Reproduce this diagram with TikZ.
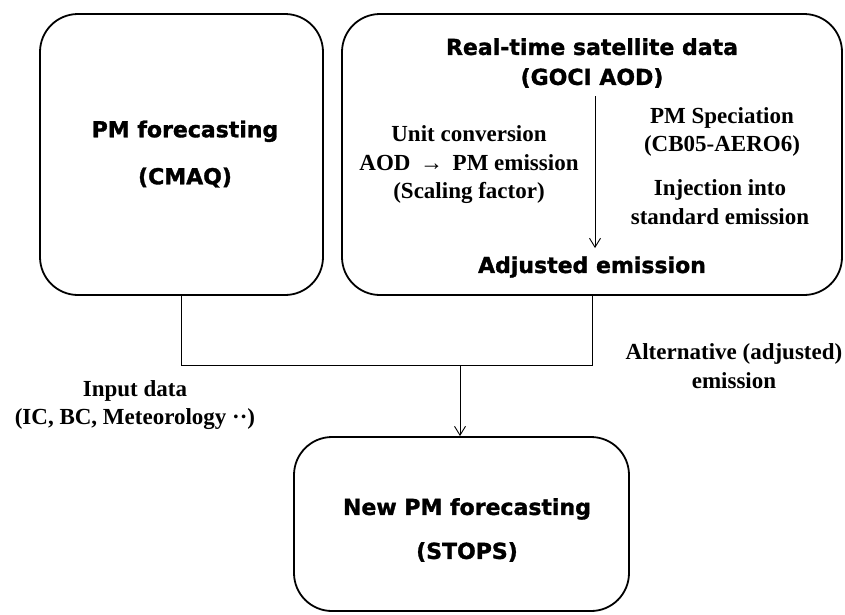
\documentclass[tikz,border=0pt]{standalone}
\usepackage{fontspec}
\setmainfont{Liberation Serif}
\newfontfamily\headfont{DejaVu Sans}[BoldFeatures={FakeBold=1.4}]
\usetikzlibrary{arrows.meta}
\begin{document}
\begin{tikzpicture}[x=1pt,y=-1pt,
  stagebox/.style={draw, line width=1.8pt, rounded corners=38pt, inner sep=0pt},
  headtext/.style={font={\headfont\bfseries\fontsize{22}{47}\selectfont}, align=center, inner sep=0pt},
  notetext/.style={font={\bfseries\fontsize{23}{28.5}\selectfont}, align=center, inner sep=0pt},
  link/.style={line width=0.9pt},
  flow/.style={line width=0.9pt, -{Straight Barb[length=9pt,width=11pt,line width=0.9pt]}}]
\useasboundingbox (0,0) rectangle (845,614);

% model boxes
\node[stagebox, minimum width=283pt, minimum height=281pt] (cmaq) at (181.5,154.5) {};
\node[headtext] (cmaqlabel) at (185,154) {PM forecasting\\(CMAQ)};

\node[stagebox, minimum width=500pt, minimum height=281pt] (sat) at (592,154.5) {};
\node[headtext, font={\headfont\bfseries\fontsize{22}{30}\selectfont}] (goci) at (592,63) {Real-time satellite data\\(GOCI AOD)};
\node[headtext] (adj) at (592,267) {Adjusted emission};
\node[notetext] (unit) at (469,165) {Unit conversion\\AOD \,→\, PM emission\\(Scaling factor)};
\node[notetext] (spec) at (722,132) {PM Speciation\\(CB05-AERO6)};
\node[notetext] (inject) at (720,202) {Injection into\\standard emission};
\draw[flow] ([xshift=3pt,yshift=-8pt]goci.south) -- ([xshift=3pt,yshift=8pt]adj.north);

\node[stagebox, minimum width=335pt, minimum height=174pt] (stops) at (461.5,524) {};
\node[headtext, font={\headfont\bfseries\fontsize{22}{44}\selectfont}] (stopslabel) at (467,530) {New PM forecasting\\(STOPS)};

% merging connectors
\coordinate (join) at (460,365);
\draw[link] (cmaq.south) |- (join);
\draw[link] (sat.south) |- (join);
\draw[flow] (join) -- ([xshift=-1.5pt]stops.north);

\node[notetext] (inputs) at (135,405) {Input data\\(IC, BC, Meteorology ··)};
\node[notetext] (altern) at (734,366) {Alternative (adjusted)\\emission};
\end{tikzpicture}
\end{document}
